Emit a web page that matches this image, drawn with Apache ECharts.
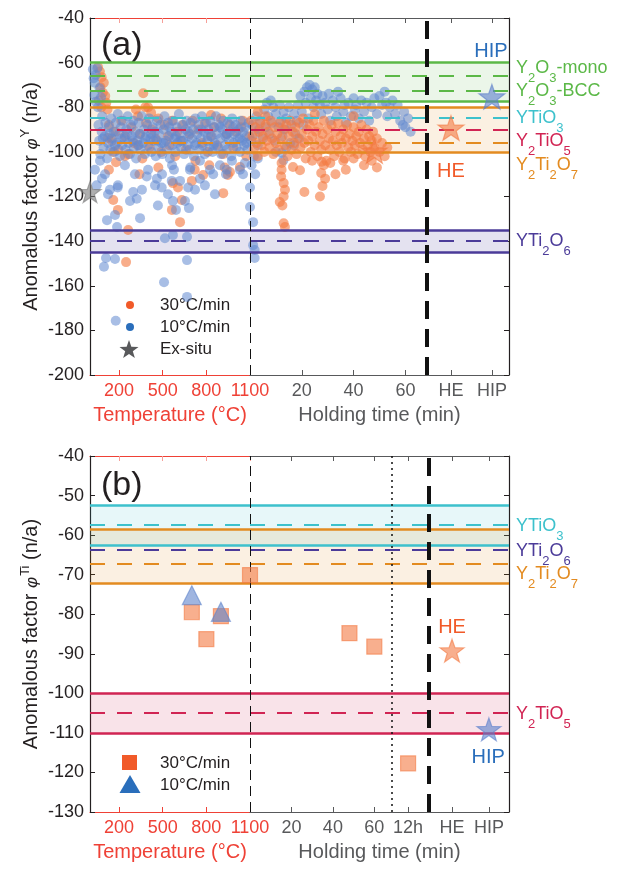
<!DOCTYPE html>
<html><head><meta charset="utf-8">
<script src="https://cdn.jsdelivr.net/npm/echarts@6/dist/echarts.min.js"></script>
<style>html,body{margin:0;padding:0;background:#fff}#c{width:624px;height:869px}</style>
</head><body><div id="c"></div>
<script>
// ================= DATA =================
// x-axis ticks
const tempTicks = [200, 500, 800, 1100];
const holdTickLabelsA = ['20', '40', '60', 'HE', 'HIP'];
const holdTickPosA = [20, 40, 60, 77.6, 93.4];
const holdTickLabelsB = ['20', '40', '60', '12h', 'HE', 'HIP'];
const holdTickPosB = [20, 40, 60, 76.3, 97.5, 115.3];
const tempRange = [0, 1100];
const holdRangeA = [0, 100];
const holdRangeB = [0, 125];
const yRangeA = [-200, -40];
const yRangeB = [-130, -40];

// vertical reference lines (holding-time units)
const thickDashA = 68.3;
const dottedB = 68.5;
const thickDashB = 86.4;

// phase bands (a)
const bandPhaseA = ['Y2O3', 'Y2Ti2O7', 'YTi2O6'];
const bandHighA = [-60, -80, -135];
const bandLowA = [-77.5, -100, -145];
const refPhaseA = ['Y2O3', 'Y2O3', 'YTiO3', 'Y2TiO5', 'Y2Ti2O7', 'YTi2O6'];
const refValA = [-66, -72.5, -84.5, -90, -96, -140];
const labelTextA = ['Y2O3-mono', 'Y2O3-BCC', 'YTiO3', 'Y2TiO5', 'Y2Ti2O7', 'YTi2O6'];
const labelPhaseA = ['Y2O3', 'Y2O3', 'YTiO3', 'Y2TiO5', 'Y2Ti2O7', 'YTi2O6'];
const labelValA = [-62.3, -72.9, -84.8, -95.3, -105.7, -140];

// phase bands (b)
const bandPhaseB = ['YTiO3', 'Y2Ti2O7', 'Y2TiO5'];
const bandHighB = [-52.4, -58.6, -100];
const bandLowB = [-62.6, -72.2, -110];
const refPhaseB = ['YTiO3', 'YTi2O6', 'Y2Ti2O7', 'Y2TiO5'];
const refValB = [-57.5, -63.6, -67.2, -105];
const labelTextB = ['YTiO3', 'YTi2O6', 'Y2Ti2O7', 'Y2TiO5'];
const labelPhaseB = ['YTiO3', 'YTi2O6', 'Y2Ti2O7', 'Y2TiO5'];
const labelValB = [-57.6, -63.9, -69.9, -105.2];

// (a) in-situ phi^Y, temperature ramp [T, value]
const blueTempA = [
[20,-63],[40,-65.5],[32,-69],[66,-71.5],[30,-74.5],[76,-75.5],[40,-77.5],[55,-80],[25,-67],[50,-62.5],
[58,-88],[63,-95],[71,-101],[80,-91],[84,-84],[93,-98],[101,-93],[106,-87],[117,-103],[124,-96],[129,-89],[140,-99],[146,-85],[151,-94],[163,-91],[167,-100],[178,-87],[184,-96],[191,-83],[199,-92],
[207,-102],[213,-89],[221,-97],[226,-86],[237,-94],[244,-99],[249,-90],[259,-84],[266,-96],[274,-101],[281,-88],[286,-93],[297,-86],[302,-98],[312,-91],[317,-103],[326,-95],[334,-87],[341,-92],[347,-99],
[356,-84],[364,-96],[371,-90],[377,-101],[386,-93],[394,-88],[401,-97],[407,-85],[416,-94],[422,-100],[431,-89],[437,-95],[446,-91],[452,-102],[461,-86],[469,-98],[474,-92],[484,-88],[491,-96],[497,-101],
[506,-90],[512,-84],[521,-95],[527,-99],[536,-87],[544,-93],[549,-103],[559,-91],[566,-97],[572,-86],[581,-94],[587,-100],[596,-89],[602,-96],[611,-83],[617,-92],[626,-98],[632,-88],[641,-95],[647,-101],
[656,-90],[664,-86],[671,-97],[677,-93],[686,-99],[692,-87],[701,-94],[709,-90],[714,-102],[724,-85],[731,-96],[737,-92],[746,-88],[752,-99],[761,-94],[769,-84],[774,-97],[784,-91],[789,-101],[799,-87],
[806,-95],[812,-90],[821,-98],[827,-86],[836,-93],[842,-100],[851,-89],[857,-96],[866,-84],[872,-92],[881,-98],[887,-88],[896,-94],[902,-101],[911,-90],[917,-86],[926,-97],[932,-93],[941,-99],[947,-87],
[956,-95],[962,-91],[971,-102],[977,-85],[986,-96],[992,-92],[1001,-88],[1007,-98],[1016,-94],[1022,-90],[1031,-100],[1037,-86],[1046,-95],[1052,-91],[1061,-97],[1067,-89],[1076,-93],[1082,-99],[1091,-87],
[88,-94],[135,-92],[172,-97],[215,-94],[255,-92],[295,-95],[335,-97],[380,-94],[420,-92],[460,-95],[505,-96],[545,-89],[590,-93],[630,-95],[675,-91],[720,-97],[765,-90],[810,-93],[850,-97],[895,-89],[940,-92],[985,-89],[1030,-94],[1075,-96],
[34,-108],[69,-104],[103,-110],[137,-117],[192,-115],[240,-106],[275,-122],[309,-110],[357,-117],[399,-108],[447,-115],[467,-124],[495,-110],[536,-119],[564,-106],[591,-126],[619,-113],[653,-122],[687,-108],[722,-117],
[756,-104],[790,-115],[825,-108],[859,-119],[893,-106],[935,-110],[976,-104],[1031,-108],[1065,-105],
[46,-115],[82,-112],[124,-119],[190,-116],[297,-118],[321,-121],[390,-111],[460,-112],[493,-116],[562,-113],[570,-122],[577,-108],[675,-116],[690,-107],[756,-112],[847,-110],[940,-108],[1052,-110],
[96,-151.5],[110,-147.6],[172,-148],[117,-130.6],[172,-128.3],[186,-133.7],[344,-129.7],[515,-138.7],[570,-137.3],[667,-138],[667,-148.5],[680,-125.2],[509,-158.4],[667,-165],[177,-175.7]
];
const orangeTempA = [
[55,-62],[68,-64],[80,-66.5],[95,-69],[72,-71],[88,-73.5],[105,-75],[112,-78],[78,-80],[60,-77],[120,-81],
[366,-73.7],[380,-80],[420,-82.5],[316,-81],[399,-80],[832,-83.5],
[130,-88],[150,-95],[175,-91],[195,-99],[215,-86],[240,-93],[262,-101],[285,-89],[300,-96],[330,-84],[345,-92],[360,-103],[385,-87],[410,-98],[425,-90],[450,-94],[470,-85],[490,-100],
[513,-88],[536,-93],[545,-97],[565,-86],[585,-102],[600,-91],[620,-95],[640,-88],[660,-99],[685,-92],[705,-86],[725,-104],[745,-90],[770,-96],[790,-87],[810,-100],[830,-93],[855,-89],[875,-97],[900,-85],
[915,-101],[940,-92],[960,-88],[985,-98],[1005,-91],[1038,-89],[1050,-86],[1075,-102],[1095,-93],[124,-93.8],[158,-100],[330,-97],
[179,-104.6],[160,-121.6],[192,-126],[262,-135],[248,-149.4],[563,-126],[619,-131.5],[631,-121.6],[778,-110.4],[916,-118.5],[962,-109],[1031,-106.8],[240,-102],[570,-114],[605,-116],[720,-108],[926,-107],[948,-110.4],[470,-107],[340,-110],[130,-108],[700,-113],[820,-106]
];
// (a) in-situ phi^Y, isothermal holding [t (min), value]
const blueHoldA = [
[0.5,-95],[1,-88],[1.5,-102],[2,-92],[2.5,-84],[3,-97],[3.5,-90],[4,-86],[5,-94],[5.5,-81],[6,-89],[6.5,-78],[7,-84],[7.5,-92],[8,-77],[8.5,-87],[9,-80],[9.5,-95],[10,-83],[11,-89],
[11.5,-79],[12,-86],[12.5,-93],[13,-82],[13.5,-90],[14,-85],[15,-80],[15.5,-96],[16,-88],[17,-83],[17.5,-92],[18,-86],[18.5,-79],[19,-94],[19.5,-75],[20,-82],[20.5,-88],[21,-73],[21.5,-78],[22,-71],
[22.5,-85],[23,-70],[23.5,-76],[24,-72],[24.5,-80],[25,-71],[25.5,-77],[26,-74],[27,-79],[27.5,-83],[28,-75],[29,-78],[30,-81],[30.5,-74],[31,-86],[32,-77],[33,-80],[33.5,-84],[34,-73],[35,-76],
[36,-82],[36.5,-79],[37,-87],[38,-78],[39,-84],[40,-76],[40.5,-81],[41,-79],[42,-85],[43,-77],[44,-82],[45,-78],[46,-86],[47,-80],[48,-76],[49,-83],[50,-75],[51,-79],[52,-73],[52.5,-78],
[53,-84],[54,-80],[55,-77],[56,-83],[57,-79],[58,-86],[59,-88],[59.5,-82],[60,-89],[61,-85],[62,-91],
[0,-116],[0,-124.7],[1.2,-131.5],[1.2,-141.8],[1.8,-144],[1.8,-147.6],[0.6,-106],[2,-110],[12.9,-103.7],[12.3,-100.5],[3,-103],[14,-98],[17,-97],[10,-100]
];
const orangeHoldA = [
[0.5,-86],[1,-93],[1.5,-99],[2,-89],[2.5,-96],[3,-102],[3.5,-91],[4,-87],[4.5,-97],[5,-93],[5.5,-100],[6,-88],[6.5,-95],[7,-91],[7.5,-98],[8,-86],[8.5,-94],[9,-101],[9.5,-89],[10,-96],
[10.5,-92],[11,-99],[11.5,-87],[12,-94],[13,-90],[13.5,-97],[14,-88],[14.5,-102],[15,-93],[15.5,-86],[16,-99],[16.5,-91],[17,-96],[17.5,-89],[18,-101],[18.5,-94],[19,-87],[19.5,-98],[20,-92],[20.5,-85],
[21,-96],[21.5,-103],[22,-90],[22.5,-95],[23,-88],[23.5,-100],[24,-93],[24.5,-86],[25,-97],[25.5,-91],[26,-102],[26.5,-89],[27,-95],[27.5,-99],[28,-92],[28.5,-86],[29,-97],[29.5,-104],[30,-90],[30.5,-94],
[31,-99],[31.5,-88],[32,-95],[32.5,-102],[33,-91],[33.5,-97],[34,-87],[34.5,-100],[35,-93],[35.5,-96],[36,-90],[36.5,-103],[37,-94],[37.5,-88],[38,-98],[38.5,-92],[39,-100],[39.5,-95],[40,-89],[40.5,-97],
[41,-93],[41.5,-101],[42,-91],[42.5,-96],[43,-88],[43.5,-99],[44,-94],[44.5,-102],[45,-90],[45.5,-97],[46,-93],[46.5,-100],[47,-95],[47.5,-91],[48,-98],[49,-94],[50,-100],[51,-96],[52,-102],[53,-98],
[3,-82],[6,-84],[25,-83],[40,-84],
[12.2,-105],[12.2,-108],[12,-111],[13,-114],[13.5,-117],[13,-120],[11.5,-122.5],[12.5,-124],[13,-132],[13.5,-133.7],[19.3,-108.2],[16.6,-106.8],[21,-118],[27.7,-104.4],[27.5,-109.5],[28,-115.3],[29,-112],[27,-120],[28.5,-106],[31,-105],
[33,-110],[36,-104],[37,-108],[40,-103],[44,-106],[47,-104],[49,-107],[24,-104]
];
// ex-situ (stars)
const starGrayA = [[0, -118]];
const starHEA = [[48, -99.6], [77.6, -89.3]];
const starHIPA = [[93.4, -75.3]];
const starHEB = [[97.5, -89.2]];
const starHIPB = [[115.3, -109.1]];
// (b) phi^Ti
const sqTempB = [[700, -79.5], [800, -86.3], [900, -80.5], [1100, -70.1]];
const triTempB = [[700, -75.2], [900, -79.4]];
const sqHoldB = [[48, -84.8], [60, -88.2], [76.3, -117.7]];
// annotation text positions
const noteA = [{t: 'HIP', x: 93, y: -55.2, c: 'HIP'}, {t: 'HE', x: 77.6, y: -109, c: 'HE'}];
const noteB = [{t: 'HE', x: 97.5, y: -83.3, c: 'HE'}, {t: 'HIP', x: 115, y: -116.1, c: 'HIP'}];

// ================= STYLE =================
const FONT = "'Liberation Sans', Arial, Helvetica, sans-serif";
const INK = '#231f20';
const RED_AX = '#ef4136';
const GRAY_AX = '#58595b';
const PC = {Y2O3: '#5bb847', YTiO3: '#3dc1cc', Y2TiO5: '#d12453', Y2Ti2O7: '#e38b20', YTi2O6: '#4b3b99'};
const FILL = {Y2O3: 'rgba(91,184,71,0.12)', Y2Ti2O7: 'rgba(227,139,32,0.13)', YTi2O6: 'rgba(75,59,153,0.15)', YTiO3: 'rgba(61,193,204,0.12)', Y2TiO5: 'rgba(209,36,83,0.13)'};
const NOTE_C = {HE: '#f15a29', HIP: '#2a6ebb'};
const STAR = 'path://M0,-10L2.35,-3.24L9.51,-3.09L3.8,1.24L5.88,8.09L0,4L-5.88,8.09L-3.8,1.24L-9.51,-3.09L-2.35,-3.24Z';

function chem(s) {
  return s.split(/(\d)/).filter(Boolean).map(t => /^\d$/.test(t) ? '{s|' + t + '}' : '{m|' + t + '}').join('');
}
const chemRich = {
  m: {fontSize: 18, fontFamily: FONT, lineHeight: 20, verticalAlign: 'middle'},
  s: {fontSize: 13, fontFamily: FONT, lineHeight: 34, verticalAlign: 'bottom'}
};

function xAx(grid, pos, range, color, ticks, labels, opts) {
  opts = opts || {};
  return {
    type: 'value', gridIndex: grid, position: pos, min: range[0], max: range[1],
    axisLine: {show: true, onZero: false, lineStyle: {color: color, width: 1.2}},
    axisTick: {show: true, inside: true, length: 5, customValues: ticks, lineStyle: {color: opts.tickColor || color}},
    axisLabel: {show: !!labels, customValues: ticks, margin: 7, fontSize: 18, fontFamily: FONT, color: color,
      showMinLabel: true, showMaxLabel: true,
      formatter: labels ? (v => { const i = ticks.indexOf(v); return i >= 0 ? labels[i] : ''; }) : null},
    splitLine: {show: false},
    name: opts.name || '', nameLocation: 'middle', nameGap: 30,
    nameTextStyle: {fontSize: 20, fontFamily: FONT, color: color}
  };
}
function yAx(grid, pos, range, step, labels, sup) {
  const a = {
    type: 'value', gridIndex: grid, position: pos, min: range[0], max: range[1], interval: step,
    axisLine: {show: true, onZero: false, lineStyle: {color: INK, width: 1.2}},
    axisTick: {show: true, inside: true, length: 5, lineStyle: {color: INK}},
    axisLabel: {show: labels, margin: 6, fontSize: 18, fontFamily: FONT, color: INK},
    splitLine: {show: false}
  };
  if (sup) {
    a.name = '{a|Anomalous factor }{p|φ}{s|' + sup + '}{a| (n/a)}';
    a.nameLocation = 'middle'; a.nameRotate = 90; a.nameGap = 44;
    a.nameTextStyle = {color: INK, fontFamily: FONT, rich: {
      a: {fontSize: 20, fontFamily: FONT, color: INK, lineHeight: 22, verticalAlign: 'bottom'},
      p: {fontSize: 17, fontFamily: FONT, color: INK, fontStyle: 'italic', lineHeight: 22, verticalAlign: 'bottom'},
      s: {fontSize: 13, fontFamily: FONT, color: INK, lineHeight: 14, padding: [0, 0, 12, 1], verticalAlign: 'top'}
    }};
  }
  return a;
}

function bandSeries(xi, yi, phases, hi, lo) {
  return {type: 'scatter', xAxisIndex: xi, yAxisIndex: yi, data: [], silent: true, z: 1,
    markArea: {silent: true, data: phases.map((p, i) => [{yAxis: hi[i], itemStyle: {color: FILL[p]}}, {yAxis: lo[i]}])}};
}
function lineSeries(xi, yi, phases, hi, lo, refPh, refV, verticals, labels) {
  const d = [];
  phases.forEach((p, i) => {
    d.push({yAxis: hi[i], lineStyle: {color: PC[p], width: 2.5, type: 'solid'}});
    d.push({yAxis: lo[i], lineStyle: {color: PC[p], width: 2.5, type: 'solid'}});
  });
  refPh.forEach((p, i) => d.push({yAxis: refV[i], lineStyle: {color: PC[p], width: 2, type: [15, 12]}}));
  verticals.forEach(v => d.push(v));
  return {type: 'scatter', xAxisIndex: xi, yAxisIndex: yi, data: [], silent: true, z: 5,
    markLine: {silent: true, symbol: ['none', 'none'], label: {show: false}, data: d},
    markPoint: labels ? {silent: true, symbol: 'circle', symbolSize: 0, data: labels} : undefined};
}
function phaseLabels(xmax, texts, phases, vals) {
  return texts.map((t, i) => ({coord: [xmax, vals[i]], label: {show: true, position: 'right', distance: 7,
    formatter: chem(t), color: PC[phases[i]], fontFamily: FONT, rich: chemRich}}));
}
function noteLabels(notes) {
  return notes.map(n => ({coord: [n.x, n.y], label: {show: true, position: 'inside', formatter: n.t,
    fontSize: 20, fontFamily: FONT, color: NOTE_C[n.c]}}));
}
function dots(xi, yi, data, color, op, z) {
  return {type: 'scatter', xAxisIndex: xi, yAxisIndex: yi, data: data, symbol: 'circle', symbolSize: 10,
    clip: false, silent: true, z: z || 3, itemStyle: {color: color, opacity: op}};
}
function marks(xi, yi, data, symbol, size, color) {
  return {type: 'scatter', xAxisIndex: xi, yAxisIndex: yi, data: data, symbol: symbol, symbolSize: size,
    symbolKeepAspect: true, clip: false, silent: true, z: 6,
    itemStyle: {color: color, opacity: 0.6, borderColor: color, borderWidth: 1.2}};
}

const BLUE = '#6088d0', ORANGE = '#f47a42';
const thinDash = {xAxis: 0, lineStyle: {color: '#111', width: 1, type: [10, 6]}};

const option = {
  animation: false,
  textStyle: {fontFamily: FONT},
  grid: [
    {left: 90, top: 18, width: 160, height: 357},
    {left: 250, top: 18, width: 259, height: 357},
    {left: 90, top: 456, width: 160, height: 356},
    {left: 250, top: 456, width: 259, height: 356}
  ],
  xAxis: [
    xAx(0, 'bottom', tempRange, RED_AX, tempTicks, tempTicks.map(String), {name: 'Temperature (°C)'}),
    xAx(0, 'top', tempRange, RED_AX, tempTicks, null, {tickColor: '#f6a09a'}),
    xAx(1, 'bottom', holdRangeA, GRAY_AX, holdTickPosA, holdTickLabelsA, {name: 'Holding time (min)'}),
    xAx(1, 'top', holdRangeA, GRAY_AX, holdTickPosA, null),
    xAx(2, 'bottom', tempRange, RED_AX, tempTicks, tempTicks.map(String), {name: 'Temperature (°C)'}),
    xAx(2, 'top', tempRange, RED_AX, tempTicks, null, {tickColor: '#f6a09a'}),
    xAx(3, 'bottom', holdRangeB, GRAY_AX, holdTickPosB, holdTickLabelsB, {name: 'Holding time (min)'}),
    xAx(3, 'top', holdRangeB, GRAY_AX, holdTickPosB, null)
  ],
  yAxis: [
    yAx(0, 'left', yRangeA, 20, true, 'Y'),
    yAx(1, 'right', yRangeA, 20, false),
    yAx(2, 'left', yRangeB, 10, true, 'Ti'),
    yAx(3, 'right', yRangeB, 10, false)
  ],
  series: [
    // panel (a) temperature
    bandSeries(0, 0, bandPhaseA, bandHighA, bandLowA),
    dots(0, 0, orangeTempA, ORANGE, 0.62),
    dots(0, 0, blueTempA, BLUE, 0.55),
    lineSeries(0, 0, bandPhaseA, bandHighA, bandLowA, refPhaseA, refValA, []),
    marks(0, 0, starGrayA, STAR, 22, '#7a7a7a'),
    // panel (a) holding
    bandSeries(2, 1, bandPhaseA, bandHighA, bandLowA),
    dots(2, 1, blueHoldA, BLUE, 0.55),
    dots(2, 1, orangeHoldA, ORANGE, 0.62),
    lineSeries(2, 1, bandPhaseA, bandHighA, bandLowA, refPhaseA, refValA,
      [thinDash, {xAxis: thickDashA, lineStyle: {color: '#111', width: 4, type: [18, 10]}}],
      phaseLabels(holdRangeA[1], labelTextA, labelPhaseA, labelValA).concat(noteLabels(noteA))),
    marks(2, 1, starHEA, STAR, 26, '#f47a42'),
    marks(2, 1, starHIPA, STAR, 26, '#5b7fcb'),
    // panel (b) temperature
    bandSeries(4, 2, bandPhaseB, bandHighB, bandLowB),
    lineSeries(4, 2, bandPhaseB, bandHighB, bandLowB, refPhaseB, refValB, []),
    marks(4, 2, sqTempB, 'rect', 15, '#f47a42'),
    marks(4, 2, triTempB, 'triangle', 19, '#5f84cc'),
    // panel (b) holding
    bandSeries(6, 3, bandPhaseB, bandHighB, bandLowB),
    lineSeries(6, 3, bandPhaseB, bandHighB, bandLowB, refPhaseB, refValB,
      [thinDash, {xAxis: dottedB, lineStyle: {color: '#111', width: 1.5, type: [2, 4]}},
       {xAxis: thickDashB, lineStyle: {color: '#111', width: 4, type: [18, 10]}}],
      phaseLabels(holdRangeB[1], labelTextB, labelPhaseB, labelValB).concat(noteLabels(noteB))),
    marks(6, 3, sqHoldB, 'rect', 15, '#f47a42'),
    marks(6, 3, starHEB, STAR, 24, '#f47a42'),
    marks(6, 3, starHIPB, STAR, 24, '#5b7fcb')
  ]
};

// legends & panel tags (layout only)
function starPts(cx, cy, R) {
  const p = [];
  for (let k = 0; k < 10; k++) {
    const r = k % 2 ? R * 0.4 : R, a = -Math.PI / 2 + k * Math.PI / 5;
    p.push([cx + r * Math.cos(a), cy + r * Math.sin(a)]);
  }
  return p;
}
const txt = (x, y, t, size) => ({type: 'text', x: x, y: y, silent: true,
  style: {text: t, fontSize: size || 17, fontFamily: FONT, fill: INK, verticalAlign: 'middle'}});
option.graphic = [
  txt(101, 46, '(a)', 34),
  txt(101, 486, '(b)', 34),
  {type: 'circle', shape: {cx: 130, cy: 305, r: 4}, style: {fill: '#f15a29'}, silent: true},
  txt(160, 305, '30°C/min'),
  {type: 'circle', shape: {cx: 130, cy: 327, r: 4}, style: {fill: '#2a6ebb'}, silent: true},
  txt(160, 327, '10°C/min'),
  {type: 'polygon', shape: {points: starPts(129, 350, 10)}, style: {fill: '#58595b'}, silent: true},
  txt(160, 349, 'Ex-situ'),
  {type: 'rect', shape: {x: 122, y: 755, width: 15, height: 15}, style: {fill: '#f15a29'}, silent: true},
  txt(160, 763, '30°C/min'),
  {type: 'polygon', shape: {points: [[130, 775], [140.5, 793], [119.5, 793]]}, style: {fill: '#2a6ebb'}, silent: true},
  txt(160, 785, '10°C/min')
];

const chart = echarts.init(document.getElementById('c'), null, {renderer: 'canvas'});
chart.setOption(option);
</script>
</body></html>
